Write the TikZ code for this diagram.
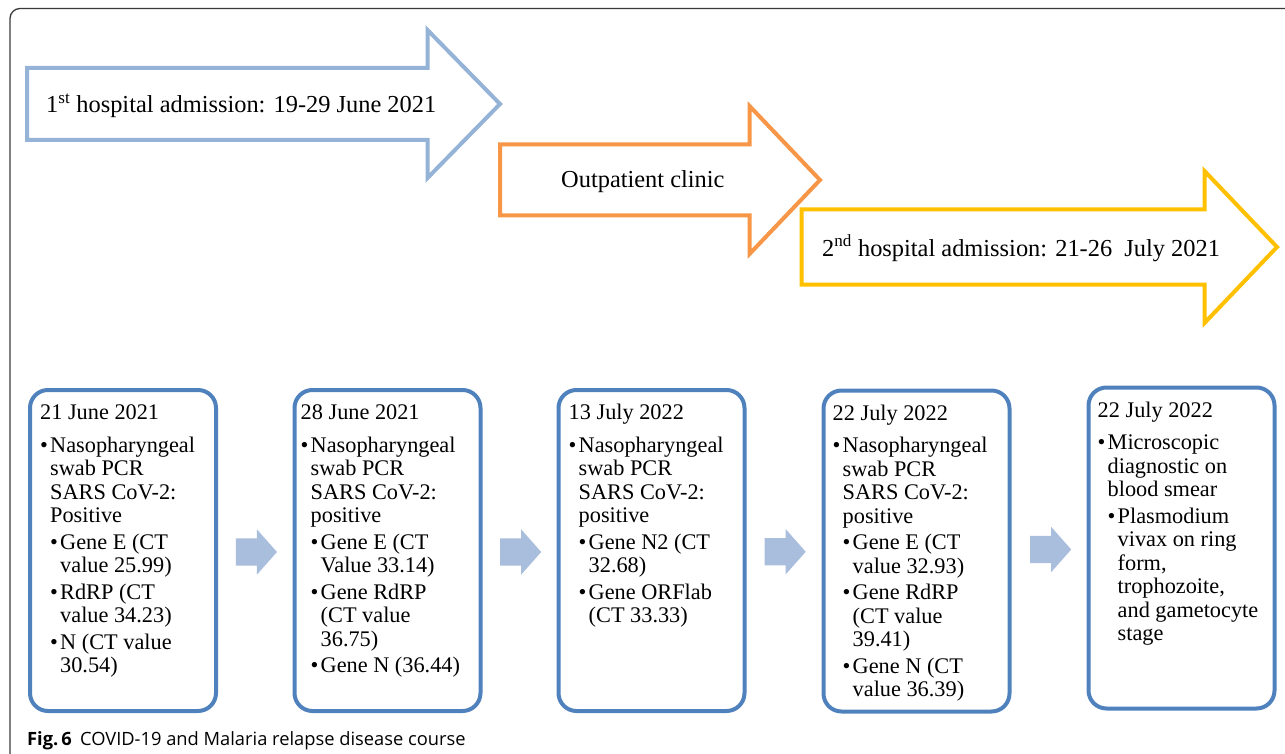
\documentclass[tikz,border=0pt]{standalone}
\usepackage{fontspec}
\setmainfont{Liberation Serif}
\newfontfamily\capfont{Open Sans}
\usetikzlibrary{shapes.arrows,calc}
\definecolor{arrblue}{HTML}{95B3D7}
\definecolor{arrorange}{HTML}{F79646}
\definecolor{arrgold}{HTML}{FFC000}
\definecolor{boxblue}{HTML}{4F81BD}
\definecolor{smallarr}{HTML}{A9BDDC}
\definecolor{framegray}{HTML}{3A3A3A}
\newcommand\Lone[1]{\leavevmode\hbox to 10pt{\textbullet\hss}#1\par}
\newcommand\Lonec[1]{\leavevmode\hspace*{10pt}#1\par}
\newcommand\Ltwo[1]{\leavevmode\hspace*{10pt}\hbox to 10pt{\textbullet\hss}#1\par}
\newcommand\Ltwoc[1]{\leavevmode\hspace*{20pt}#1\par}
\newcommand\Gp{\vskip3pt}
\newcommand\Dte[1]{\leavevmode#1\par\vskip9.3pt}
\newcommand\Boxtext[1]{\vtop{\hsize=240pt\parindent=0pt\parskip=0pt\fontsize{22.3}{23.5}\selectfont #1}}
\tikzset{
  bigarrow/.style={line width=4pt, line join=miter, fill=white},
  arrtext/.style={anchor=base west, inner sep=0pt, font=\fontsize{24.4}{28}\selectfont},
  bx/.style={draw=boxblue, line width=4pt, rounded corners=18pt, minimum width=186pt, minimum height=321pt, inner sep=0pt},
  bxtext/.style={anchor=base west, inner sep=0pt},
  smallarrow/.style={single arrow, fill=smallarr, draw=none, inner xsep=0pt, inner ysep=13.5pt, minimum height=41pt, single arrow head extend=9pt, single arrow tip angle=97, anchor=tail},
}
\begin{document}
\begin{tikzpicture}[x=1pt,y=-1pt]
\useasboundingbox (0,0) rectangle (1285,754);
% outer frame
\draw[framegray, line width=1.3pt, rounded corners=10pt] (1300,8.5) -- (10,8.5) -- (10,775);
% big arrows
\draw[bigarrow, draw=arrblue] (27,68) -- (427.5,68) -- (427.5,30) -- (500,104) -- (427.5,178) -- (427.5,140) -- (27,140) -- cycle;
\node[arrtext] (t1) at (46,113) {1\textsuperscript{st} hospital admission: 19-29 June 2021};
\draw[bigarrow, draw=arrorange] (500,144.5) -- (749.5,144.5) -- (749.5,106) -- (820,180) -- (749.5,254) -- (749.5,215.5) -- (500,215.5) -- cycle;
\node[arrtext] (t2) at (561,188) {Outpatient clinic};
\draw[bigarrow, draw=arrgold] (801.5,209.5) -- (1204.5,209.5) -- (1204.5,171) -- (1277,247) -- (1204.5,323) -- (1204.5,284.5) -- (801.5,284.5) -- cycle;
\node[arrtext] (t3) at (822,256) {2\textsuperscript{nd} hospital admission: 21-26\ \ July 2021};
% boxes
\node[bx] (b1) at (123,550.5) {};
\node[bx] (b2) at (387.5,550.5) {};
\node[bx] (b3) at (651.5,550.5) {};
\node[bx] (b4) at (916.5,551) {};
\node[bx] (b5) at (1181.5,548) {};
\node[bxtext] (x1) at ($(b1.north west)+(12,31.5)$) {\Boxtext{%
\Dte{21 June 2021}
\Lone{Nasopharyngeal}\Lonec{swab PCR}\Lonec{SARS CoV-2:}\Lonec{Positive}\Gp
\Ltwo{Gene E (CT}\Ltwoc{value 25.99)}\Gp
\Ltwo{RdRP (CT}\Ltwoc{value 34.23)}\Gp
\Ltwo{N (CT value}\Ltwoc{30.54)}}};
\node[bxtext] (x2) at ($(b2.north west)+(8,31.5)$) {\Boxtext{%
\Dte{28 June 2021}
\Lone{Nasopharyngeal}\Lonec{swab PCR}\Lonec{SARS CoV-2:}\Lonec{positive}\Gp
\Ltwo{Gene E (CT}\Ltwoc{Value 33.14)}\Gp
\Ltwo{Gene RdRP}\Ltwoc{(CT value}\Ltwoc{36.75)}\Gp
\Ltwo{Gene N (36.44)}}};
\node[bxtext] (x3) at ($(b3.north west)+(12,31.5)$) {\Boxtext{%
\Dte{13 July 2022}
\Lone{Nasopharyngeal}\Lonec{swab PCR}\Lonec{SARS CoV-2:}\Lonec{positive}\Gp
\Ltwo{Gene N2 (CT}\Ltwoc{32.68)}\Gp
\Ltwo{Gene ORFlab}\Ltwoc{(CT 33.33)}}};
\node[bxtext] (x4) at ($(b4.north west)+(11,31.5)$) {\Boxtext{%
\Dte{22 July 2022}
\Lone{Nasopharyngeal}\Lonec{swab PCR}\Lonec{SARS CoV-2:}\Lonec{positive}\Gp
\Ltwo{Gene E (CT}\Ltwoc{value 32.93)}\Gp
\Ltwo{Gene RdRP}\Ltwoc{(CT value}\Ltwoc{39.41)}\Gp
\Ltwo{Gene N (CT}\Ltwoc{value 36.39)}}};
\node[bxtext] (x5) at ($(b5.north west)+(11,31.5)$) {\Boxtext{%
\Dte{22 July 2022}
\Lone{Microscopic}\Lonec{diagnostic on}\Lonec{blood smear}\Gp
\Ltwo{Plasmodium}\Ltwoc{vivax on ring}\Ltwoc{form,}\Ltwoc{trophozoite,}\Ltwoc{and gametocyte}\Ltwoc{stage}}};
% small connector arrows
\node[smallarrow] (a12) at ($(b1.east)!0.5!(b2.west)+(-19.5,1.5)$) {};
\node[smallarrow] (a23) at ($(b2.east)!0.5!(b3.west)+(-19.5,1.5)$) {};
\node[smallarrow] (a34) at ($(b3.east)!0.5!(b4.west)+(-19.5,1)$) {};
\node[smallarrow] (a45) at ($(b4.east)!0.5!(b5.west)+(-19,0)$) {};
% caption
\node[anchor=base west, inner sep=0pt, font=\capfont\fontsize{18.3}{21}\selectfont] (cap) at (27,745) {\textbf{Fig.\,6}\hspace{0.45em}COVID-19 and Malaria relapse disease course};
\end{tikzpicture}
\end{document}
